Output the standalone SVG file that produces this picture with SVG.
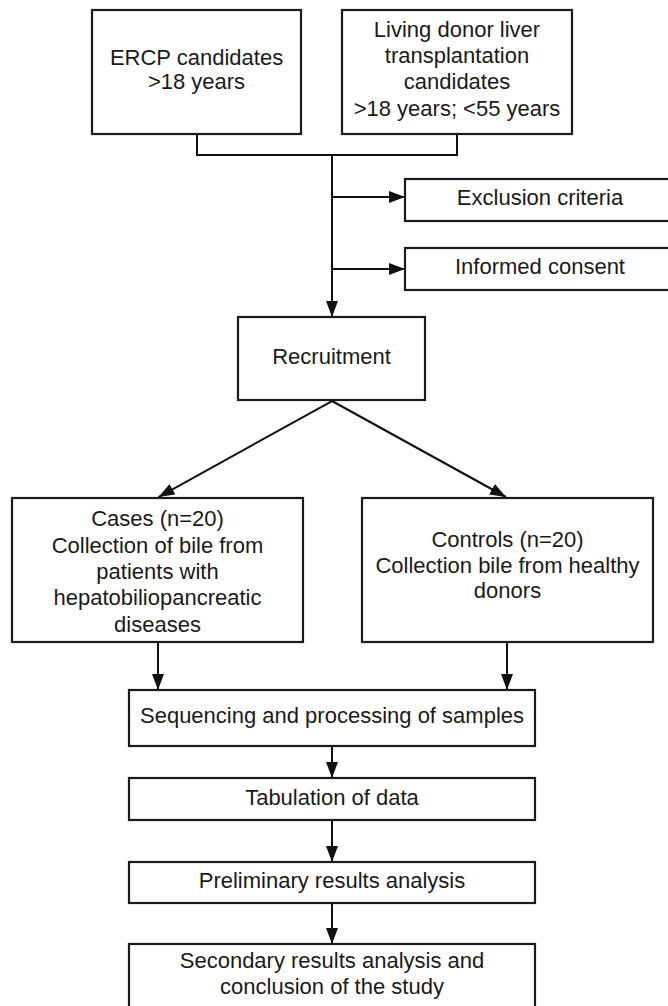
<svg xmlns="http://www.w3.org/2000/svg" width="668" height="1006" viewBox="0 0 668 1006">
<style>
.box{fill:#fff;stroke:#1a1a1a;stroke-width:2.2}
.t{font-family:"Liberation Sans",Arial,sans-serif;font-size:22px;fill:#1a1a1a;text-anchor:middle}
.ln{fill:none;stroke:#111;stroke-width:2}
</style>
<defs>
<marker id="ah" markerUnits="userSpaceOnUse" markerWidth="16" markerHeight="12" refX="16" refY="6" orient="auto">
<path d="M0,0 L16,6 L0,12 z" fill="#111"/>
</marker>
</defs>
<rect width="668" height="1006" fill="#fff"/>
<g id="connectors">
<path class="ln" d="M197,134 V155 H457 V134"/>
<path class="ln" d="M332,155 V317" marker-end="url(#ah)"/>
<path class="ln" d="M332,197 H405" marker-end="url(#ah)"/>
<path class="ln" d="M332,269 H405" marker-end="url(#ah)"/>
<path class="ln" d="M332,401 L158.5,497" marker-end="url(#ah)"/>
<path class="ln" d="M332,401 L506,497" marker-end="url(#ah)"/>
<path class="ln" d="M158,642 V690" marker-end="url(#ah)"/>
<path class="ln" d="M507,642 V690" marker-end="url(#ah)"/>
<path class="ln" d="M332,746 V778" marker-end="url(#ah)"/>
<path class="ln" d="M332,820 V862" marker-end="url(#ah)"/>
<path class="ln" d="M332,903 V944" marker-end="url(#ah)"/>
</g>
<g id="ercp">
<rect class="box" x="92" y="10" width="209" height="124"/>
<text class="t" x="196.5" y="64.5">ERCP candidates</text>
<text class="t" x="196.5" y="89">&gt;18 years</text>
</g>
<g id="living">
<rect class="box" x="342" y="10" width="230" height="124"/>
<text class="t" x="457" y="36.7">Living donor liver</text>
<text class="t" x="457" y="63">transplantation</text>
<text class="t" x="457" y="89.3">candidates</text>
<text class="t" x="457" y="115.5">&gt;18 years; &lt;55 years</text>
</g>
<g id="exclusion">
<rect class="box" x="405" y="179" width="275" height="42"/>
<text class="t" x="540" y="205">Exclusion criteria</text>
</g>
<g id="consent">
<rect class="box" x="405" y="248" width="275" height="42"/>
<text class="t" x="540" y="273.5">Informed consent</text>
</g>
<g id="recruitment">
<rect class="box" x="238" y="317" width="187" height="83"/>
<text class="t" x="331.5" y="363.5">Recruitment</text>
</g>
<g id="cases">
<rect class="box" x="12" y="498" width="291" height="144"/>
<text class="t" x="157.5" y="526.3">Cases (n=20)</text>
<text class="t" x="157.5" y="552.6">Collection of bile from</text>
<text class="t" x="157.5" y="578.9">patients with</text>
<text class="t" x="157.5" y="605.2">hepatobiliopancreatic</text>
<text class="t" x="157.5" y="631.5">diseases</text>
</g>
<g id="controls">
<rect class="box" x="362" y="498" width="291" height="144"/>
<text class="t" x="507.5" y="546.8">Controls (n=20)</text>
<text class="t" x="507.5" y="572.6">Collection bile from healthy</text>
<text class="t" x="507.5" y="598.4">donors</text>
</g>
<g id="sequencing">
<rect class="box" x="129" y="690" width="406" height="56"/>
<text class="t" x="332" y="722.5">Sequencing and processing of samples</text>
</g>
<g id="tabulation">
<rect class="box" x="129" y="778" width="406" height="42"/>
<text class="t" x="332" y="804.5">Tabulation of data</text>
</g>
<g id="preliminary">
<rect class="box" x="129" y="862" width="406" height="41"/>
<text class="t" x="332" y="887.5">Preliminary results analysis</text>
</g>
<g id="secondary">
<rect class="box" x="129" y="944" width="406" height="80"/>
<text class="t" x="332" y="967.5">Secondary results analysis and</text>
<text class="t" x="332" y="993.5">conclusion of the study</text>
</g>
</svg>
